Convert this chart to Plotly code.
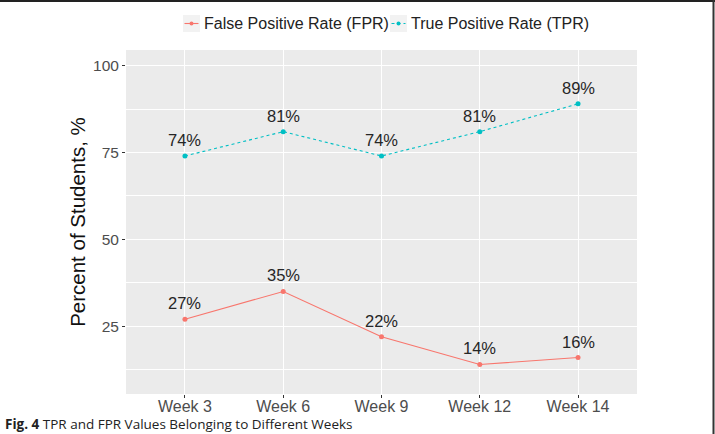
import plotly.graph_objects as go

weeks = ["Week 3", "Week 6", "Week 9", "Week 12", "Week 14"]
fpr = [27, 35, 22, 14, 16]
tpr = [74, 81, 74, 81, 89]
y_ticks = [25, 50, 75, 100]
y_minor = [12.5, 37.5, 62.5, 87.5]
series_names = ["False Positive Rate (FPR)", "True Positive Rate (TPR)"]

FPR_COLOR = "#F8766D"
TPR_COLOR = "#00BFC4"

W, H = 715, 434
L, R, T, B = 126, 78, 50, 40
PW, PH = W - L - R, H - T - B


def px_x(x):
    return (x - L) / PW


def px_y(y):
    return (H - B - y) / PH


fig = go.Figure()
fig.add_trace(go.Scatter(
    x=weeks, y=fpr, mode="lines+markers", name=series_names[0],
    line=dict(color=FPR_COLOR, width=1.1),
    marker=dict(color=FPR_COLOR, size=5),
))
fig.add_trace(go.Scatter(
    x=weeks, y=tpr, mode="lines+markers", name=series_names[1],
    line=dict(color=TPR_COLOR, width=1.1, dash="dot"),
    marker=dict(color=TPR_COLOR, size=5),
))

annotations = []
for series in (fpr, tpr):
    for w, v in zip(weeks, series):
        annotations.append(dict(
            x=w, y=v, text=f"{v}%", showarrow=False, yshift=16,
            xanchor="center", yanchor="middle",
            font=dict(family="Liberation Sans, Arial", size=16.5, color="#262626"),
        ))

annotations.append(dict(
    xref="paper", yref="paper", x=px_x(4), y=px_y(434),
    xanchor="left", yanchor="bottom", showarrow=False, borderpad=0,
    text="<b>Fig. 4</b> TPR and FPR Values Belonging to Different Weeks",
    font=dict(family="Open Sans", size=13.5, color="#222222"),
))

shapes = [
    dict(type="line", xref="paper", yref="paper",
         x0=px_x(0), x1=px_x(W), y0=px_y(1), y1=px_y(1),
         line=dict(color="#222222", width=2)),
    dict(type="line", xref="paper", yref="paper",
         x0=px_x(713.5), x1=px_x(713.5), y0=px_y(0), y1=px_y(H),
         line=dict(color="#333333", width=2)),
]

# ggplot-style legend (grey key boxes with a short line and dot)
legend_y = 23.5
key_x = [183, 390]
for kx, name, col, dash in zip(key_x, series_names, [FPR_COLOR, TPR_COLOR], ["solid", "dot"]):
    shapes.append(dict(type="rect", xref="paper", yref="paper",
                       x0=px_x(kx), x1=px_x(kx + 17), y0=px_y(legend_y - 8.5), y1=px_y(legend_y + 8.5),
                       fillcolor="#F2F2F2", line=dict(width=0)))
    shapes.append(dict(type="line", xref="paper", yref="paper",
                       x0=px_x(kx + 1.5), x1=px_x(kx + 15.5), y0=px_y(legend_y), y1=px_y(legend_y),
                       line=dict(color=col, width=1.1, dash=dash)))
    shapes.append(dict(type="circle", xref="paper", yref="paper",
                       x0=px_x(kx + 6.5), x1=px_x(kx + 10.5), y0=px_y(legend_y - 2), y1=px_y(legend_y + 2),
                       fillcolor=col, line=dict(width=0)))
    annotations.append(dict(
        xref="paper", yref="paper", x=px_x(kx + 19), y=px_y(legend_y),
        xanchor="left", yanchor="middle", showarrow=False, text=name,
        font=dict(family="Liberation Sans, Arial", size=16, color="#222222"),
    ))

fig.update_layout(
    width=W, height=H,
    margin=dict(l=L, r=R, t=T, b=B, autoexpand=False),
    paper_bgcolor="white",
    plot_bgcolor="#EBEBEB",
    font=dict(family="Liberation Sans, Arial", color="#4D4D4D"),
    showlegend=False,
    annotations=annotations,
    shapes=shapes,
)

fig.update_xaxes(
    type="category", range=[-0.6, 4.6],
    showgrid=True, gridcolor="white", gridwidth=1.1,
    ticks="outside", ticklen=3, tickcolor="#333333", tickwidth=1,
    tickfont=dict(size=16, color="#4D4D4D"),
    ticklabelstandoff=-5,
    showline=False, zeroline=False,
)
fig.update_yaxes(
    range=[5.5, 104.5],
    tickvals=y_ticks, ticktext=[str(v) for v in y_ticks],
    showgrid=True, gridcolor="white", gridwidth=1.1,
    minor=dict(tickvals=y_minor, showgrid=True, gridcolor="white", gridwidth=0.5, ticks=""),
    ticks="outside", ticklen=3, tickcolor="#333333", tickwidth=1,
    tickfont=dict(size=15.5, color="#4D4D4D"),
    title=dict(text="Percent of Students, %", font=dict(size=20.5, color="#111111"), standoff=1),
    showline=False, zeroline=False,
)

fig.write_html("out.html")
